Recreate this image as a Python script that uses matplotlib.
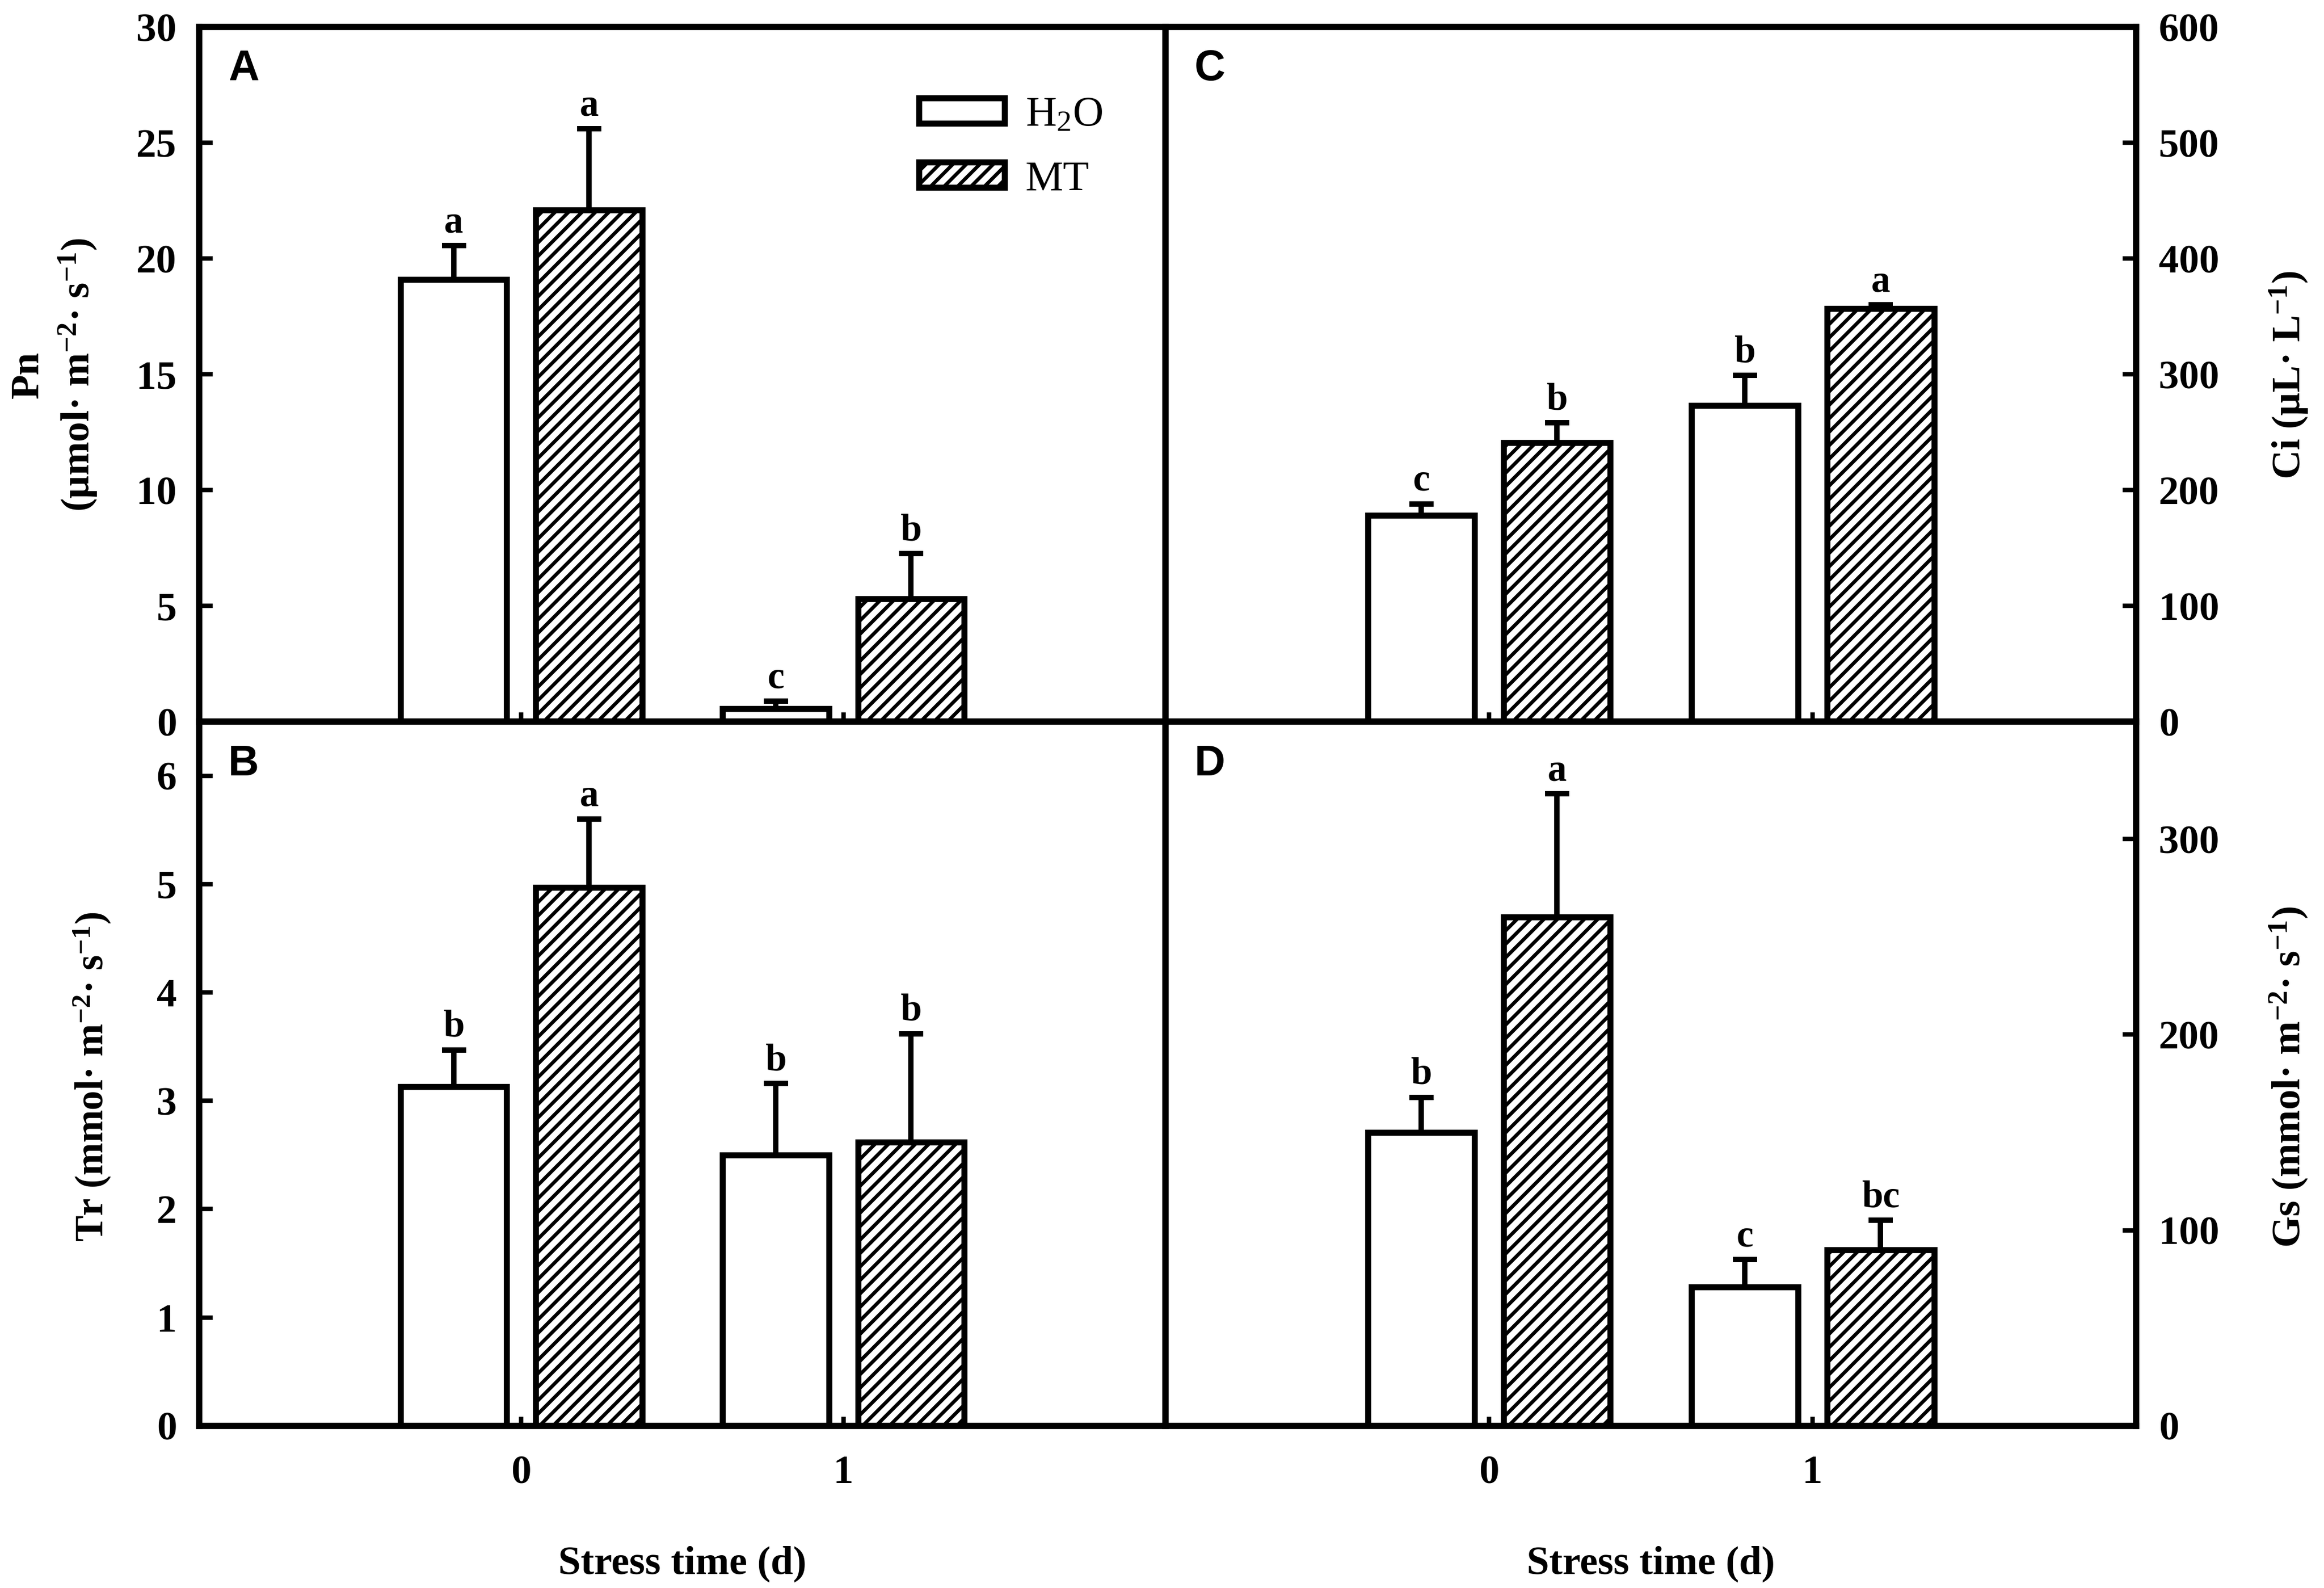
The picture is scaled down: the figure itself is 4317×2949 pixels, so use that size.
import numpy as np
import matplotlib
matplotlib.use('Agg')
import matplotlib.pyplot as plt

plt.rcParams['font.family'] = ['Liberation Serif', 'DejaVu Serif']
plt.rcParams['font.weight'] = 'bold'
plt.rcParams['mathtext.fontset'] = 'custom'
plt.rcParams['mathtext.default'] = 'regular'
plt.rcParams['hatch.linewidth'] = 1.6

# stress time (d)
days = [0, 1]
series = ['H$_2$O', 'MT']

# A: Pn
pn_h2o = [19.1, 0.55]
pn_h2o_err = [1.45, 0.33]
pn_mt = [22.1, 5.3]
pn_mt_err = [3.5, 1.95]
pn_let_h2o = ['a', 'c']
pn_let_mt = ['a', 'b']

# B: Tr
tr_h2o = [3.13, 2.50]
tr_h2o_err = [0.34, 0.66]
tr_mt = [4.97, 2.62]
tr_mt_err = [0.63, 1.00]
tr_let_h2o = ['b', 'b']
tr_let_mt = ['a', 'b']

# C: Ci
ci_h2o = [178, 273]
ci_h2o_err = [10, 26]
ci_mt = [241, 357]
ci_mt_err = [17, 3]
ci_let_h2o = ['c', 'b']
ci_let_mt = ['b', 'a']

# D: Gs
gs_h2o = [150, 71]
gs_h2o_err = [18, 14]
gs_mt = [260, 90]
gs_mt_err = [63, 15]
gs_let_h2o = ['b', 'c']
gs_let_mt = ['a', 'bc']

W, H, DPI = 4317, 2949, 300
fig = plt.figure(figsize=(W / DPI, H / DPI), dpi=DPI)

x0, xm, x1 = 0.0857, 0.5015, 0.9192
yb, ym, yt = 0.1021, 0.5456, 0.983

axA = fig.add_axes([x0, ym, xm - x0, yt - ym])
axB = fig.add_axes([x0, yb, xm - x0, ym - yb])
axC = fig.add_axes([xm, ym, x1 - xm, yt - ym])
axD = fig.add_axes([xm, yb, x1 - xm, ym - yb])

off, width = 0.21, 0.33
err_kw = dict(ecolor='black', elinewidth=2.4, capsize=5.4, capthick=2.4, zorder=3)


def draw(ax, h2o, h2o_err, mt, mt_err, let_h2o, let_mt, ylim, yticks, side, bottom_labels):
    x = np.array(days, dtype=float)
    zero = np.zeros(len(x))
    ax.bar(x - off, h2o, width, color='white', edgecolor='black', linewidth=2.7,
           yerr=[zero, h2o_err], error_kw=err_kw, label=series[0], zorder=2)
    ax.bar(x + off, mt, width, color='white', edgecolor='black', linewidth=2.7,
           hatch='////', yerr=[zero, mt_err], error_kw=err_kw, label=series[1], zorder=2)
    for xi, v, e, t in zip(x - off, h2o, h2o_err, let_h2o):
        ax.annotate(t, (xi, v + e), xytext=(0, 6), textcoords='offset points',
                    ha='center', va='baseline', fontsize=17, fontweight='bold')
    for xi, v, e, t in zip(x + off, mt, mt_err, let_mt):
        ax.annotate(t, (xi, v + e), xytext=(0, 6), textcoords='offset points',
                    ha='center', va='baseline', fontsize=17, fontweight='bold')

    ax.set_xlim(-1, 2)
    ax.set_ylim(*ylim)
    ax.set_yticks(yticks)
    ax.set_xticks(days)
    for s in ax.spines.values():
        s.set_linewidth(2.8)
    ax.tick_params(axis='y', direction='in', length=6, width=2.0, labelsize=18, pad=10)
    ax.tick_params(axis='x', direction='in', length=4, width=2.0, labelsize=18, pad=13,
                   labelbottom=bottom_labels)
    if side == 'right':
        ax.yaxis.tick_right()
    if bottom_labels:
        ax.set_xlabel('Stress time (d)', fontsize=18, fontweight='bold', labelpad=24)


draw(axA, pn_h2o, pn_h2o_err, pn_mt, pn_mt_err, pn_let_h2o, pn_let_mt,
     (0, 30), [0, 5, 10, 15, 20, 25, 30], 'left', False)
draw(axB, tr_h2o, tr_h2o_err, tr_mt, tr_mt_err, tr_let_h2o, tr_let_mt,
     (0, 6.5), [0, 1, 2, 3, 4, 5, 6], 'left', True)
draw(axC, ci_h2o, ci_h2o_err, ci_mt, ci_mt_err, ci_let_h2o, ci_let_mt,
     (0, 600), [0, 100, 200, 300, 400, 500, 600], 'right', False)
draw(axD, gs_h2o, gs_h2o_err, gs_mt, gs_mt_err, gs_let_h2o, gs_let_mt,
     (0, 360), [0, 100, 200, 300], 'right', True)

for ax, t in zip([axA, axB, axC, axD], ['A', 'B', 'C', 'D']):
    ax.text(0.03, 0.968, t, transform=ax.transAxes, family='Liberation Sans',
            fontweight='bold', fontsize=19, va='top', ha='left')

axA.legend(loc='upper left', bbox_to_anchor=(0.745, 0.9), frameon=False,
           borderpad=0, borderaxespad=0, handlelength=2.0, handleheight=0.55,
           handletextpad=0.5, labelspacing=0.6,
           prop=dict(family='Liberation Serif', weight='normal', size=19))

fig.text(0.0234, 0.764, 'Pn\n(μmol· m$^{-2}$· s$^{-1}$)', rotation=90,
         ha='center', va='center', fontsize=18, fontweight='bold',
         multialignment='center', linespacing=1.3)
fig.text(0.0396, 0.322, 'Tr (mmol· m$^{-2}$· s$^{-1}$)', rotation=90,
         ha='center', va='center', fontsize=17.5, fontweight='bold')
fig.text(0.985, 0.764, 'Ci (μL· L$^{-1}$)', rotation=90,
         ha='center', va='center', fontsize=18, fontweight='bold')
fig.text(0.985, 0.322, 'Gs (mmol· m$^{-2}$· s$^{-1}$)', rotation=90,
         ha='center', va='center', fontsize=18, fontweight='bold')

fig.savefig('out.png', dpi=DPI)
